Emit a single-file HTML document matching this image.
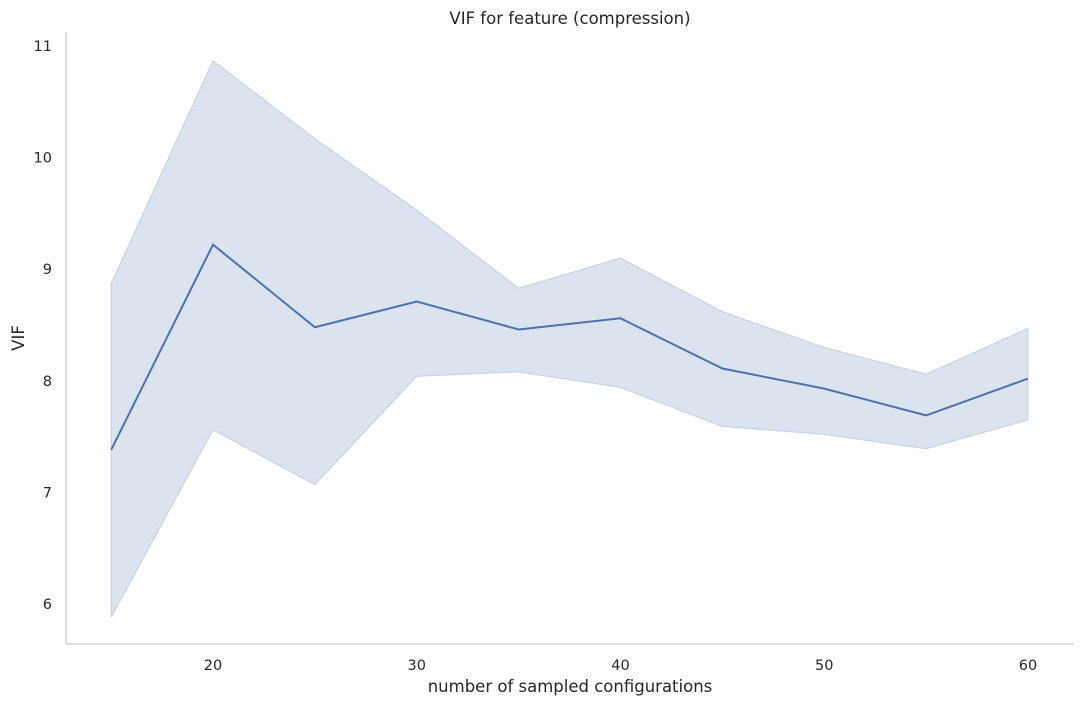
<!DOCTYPE html>
<html><head><meta charset="utf-8"><style>
body{margin:0;background:#fff;font-family:"DejaVu Sans","Liberation Sans",sans-serif;}
svg text{font-family:"DejaVu Sans","Liberation Sans",sans-serif;fill:#262626;}
</style></head><body>
<svg id="chart" width="1084" height="706">
<text x="570" y="24" text-anchor="middle" font-size="16.5">VIF for feature (compression)</text>
<g id="marks"></g>
<line x1="66" y1="32" x2="66" y2="644" stroke="#ccc" stroke-width="1.3"/>
<line x1="66" y1="644" x2="1074" y2="644" stroke="#ccc" stroke-width="1.3"/>
<g id="xticks"></g><g id="yticks"></g>
<text x="570" y="692" text-anchor="middle" font-size="16.5">number of sampled configurations</text>
<text transform="translate(24,338) rotate(-90)" text-anchor="middle" font-size="16.5">VIF</text>
</svg>
<script>
const xs=[15,20,25,30,35,40,45,50,55,60];
const meanV=[7.38,9.22,8.48,8.71,8.46,8.56,8.11,7.93,7.69,8.02];
const upperV=[8.87,10.87,10.17,9.53,8.83,9.10,8.62,8.30,8.06,8.47];
const lowerV=[5.88,7.56,7.07,8.04,8.08,7.94,7.59,7.52,7.39,7.65];
const xTicks=[20,30,40,50,60];
const yTicks=[6,7,8,9,10,11];
const X=v=>213+(v-20)*20.375;
const Y=v=>604-(v-6)*111.6;
const NS="http://www.w3.org/2000/svg";
const m=document.getElementById('marks');
let d=xs.map((x,i)=>(i?'L':'M')+X(x)+','+Y(upperV[i])).join('')+xs.slice().reverse().map((x,j)=>{const i=xs.length-1-j;return 'L'+X(x)+','+Y(lowerV[i]);}).join('')+'Z';
const band=document.createElementNS(NS,'path');
band.setAttribute('d',d);band.setAttribute('fill','rgba(76,114,176,0.2)');band.setAttribute('stroke','rgba(76,114,176,0.25)');


m.appendChild(band);
const line=document.createElementNS(NS,'path');
line.setAttribute('d',xs.map((x,i)=>(i?'L':'M')+X(x)+','+Y(meanV[i])).join(''));
line.setAttribute('fill','none');line.setAttribute('stroke','#4c72b0');line.setAttribute('stroke-width','2');


m.appendChild(line);
const xt=document.getElementById('xticks');
xTicks.forEach(v=>{const t=document.createElementNS(NS,'text');t.setAttribute('x',X(v));t.setAttribute('y',670);t.setAttribute('text-anchor','middle');t.setAttribute('font-size','14.5');t.textContent=v;


xt.appendChild(t);});
const yt=document.getElementById('yticks');
yTicks.forEach(v=>{const t=document.createElementNS(NS,'text');t.setAttribute('x',52);t.setAttribute('y',Y(v)+5);t.setAttribute('text-anchor','end');t.setAttribute('font-size','14.5');t.textContent=v;


yt.appendChild(t);});
</script>
</body></html>
